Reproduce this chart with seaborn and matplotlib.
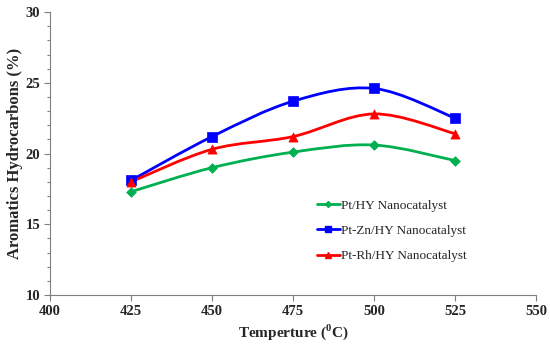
import numpy as np
import pandas as pd
import matplotlib
matplotlib.use("Agg")
import matplotlib.pyplot as plt
import seaborn as sns
from matplotlib.path import Path
from matplotlib.patches import PathPatch
from matplotlib.lines import Line2D
from matplotlib.ticker import MultipleLocator

temperature = [425, 450, 475, 500, 525]
pt_hy = [17.3, 19.0, 20.1, 20.6, 19.5]
pt_zn_hy = [18.1, 21.2, 23.7, 24.6, 22.5]
pt_rh_hy = [18.0, 20.3, 21.2, 22.8, 21.4]

names = ["Pt/HY Nanocatalyst", "Pt-Zn/HY Nanocatalyst", "Pt-Rh/HY Nanocatalyst"]
colors = ["#00b050", "#0000ff", "#ff0000"]
markers = ["D", "s", "^"]
marker_sizes = [4.5, 6, 6]

df = pd.DataFrame({
    "temp": temperature * 3,
    "value": pt_hy + pt_zn_hy + pt_rh_hy,
    "catalyst": [n for n in names for _ in temperature],
})

sns.set_style("white")
plt.rcParams["font.family"] = ["Liberation Serif", "DejaVu Serif"]
plt.rcParams["mathtext.fontset"] = "custom"
plt.rcParams["mathtext.rm"] = "Liberation Serif:bold"
plt.rcParams["mathtext.bf"] = "Liberation Serif:bold"


def smooth_path(x, y):
    # Excel-like smoothed line: cubic bezier with catmull-rom control points
    x = np.asarray(x, float)
    y = np.asarray(y, float)
    verts = [(x[0], y[0])]
    codes = [Path.MOVETO]
    n = len(x)
    for i in range(n - 1):
        x0, y0 = (x[i - 1], y[i - 1]) if i > 0 else (x[i], y[i])
        x3, y3 = (x[i + 2], y[i + 2]) if i + 2 < n else (x[i + 1], y[i + 1])
        c1 = (x[i] + (x[i + 1] - x0) / 6, y[i] + (y[i + 1] - y0) / 6)
        c2 = (x[i + 1] - (x3 - x[i]) / 6, y[i + 1] - (y3 - y[i]) / 6)
        verts += [c1, c2, (x[i + 1], y[i + 1])]
        codes += [Path.CURVE4] * 3
    return Path(verts, codes)


fig = plt.figure(figsize=(5.5, 3.45), dpi=100)
ax = fig.add_axes([0.091, 0.145, 0.884, 0.82])

for name, col in zip(names, colors):
    sub = df[df["catalyst"] == name]
    ax.add_patch(PathPatch(smooth_path(sub["temp"], sub["value"]),
                           facecolor="none", edgecolor=col, lw=2, zorder=2))

for name, col, m, ms in zip(names, colors, markers, marker_sizes):
    sub = df[df["catalyst"] == name]
    sns.scatterplot(data=sub, x="temp", y="value", color=col, marker=m,
                    s=ms ** 2 * 1.2, edgecolor=col, linewidth=0.5, ax=ax,
                    zorder=3, legend=False)

ax.set_xlim(400, 550)
ax.set_ylim(10, 30)
ax.xaxis.set_major_locator(MultipleLocator(25))
ax.yaxis.set_major_locator(MultipleLocator(5))
ax.yaxis.set_minor_locator(MultipleLocator(1))
ax.tick_params(axis="both", which="major", direction="out", length=4,
               width=0.8, color="#7f7f7f", labelsize=10.5, pad=3, left=True, bottom=True)
ax.tick_params(axis="y", which="minor", direction="out", length=2.5,
               width=0.8, color="#7f7f7f", left=True)
for lab in ax.get_xticklabels() + ax.get_yticklabels():
    lab.set_fontweight("bold")

for side in ["top", "right"]:
    ax.spines[side].set_visible(False)
for side in ["left", "bottom"]:
    ax.spines[side].set_color("#7f7f7f")
    ax.spines[side].set_linewidth(0.8)

ax.set_xlabel(r"Temperture ($^{0}$C)", fontsize=11, fontweight="bold", labelpad=3)
ax.set_ylabel("Aromatics Hydrocarbons (%)", fontsize=12, fontweight="bold", labelpad=1.5)

handles = [Line2D([], [], color=c, lw=2, marker=m, markersize=ms - 1.5)
           for c, m, ms in zip(colors, markers, marker_sizes)]
ax.legend(handles, names, loc="upper left", bbox_to_anchor=(0.525, 0.38),
          frameon=False, fontsize=9.5, handlelength=1.7, handletextpad=0.1,
          labelspacing=1.0)

fig.savefig("out.png", dpi=100)
